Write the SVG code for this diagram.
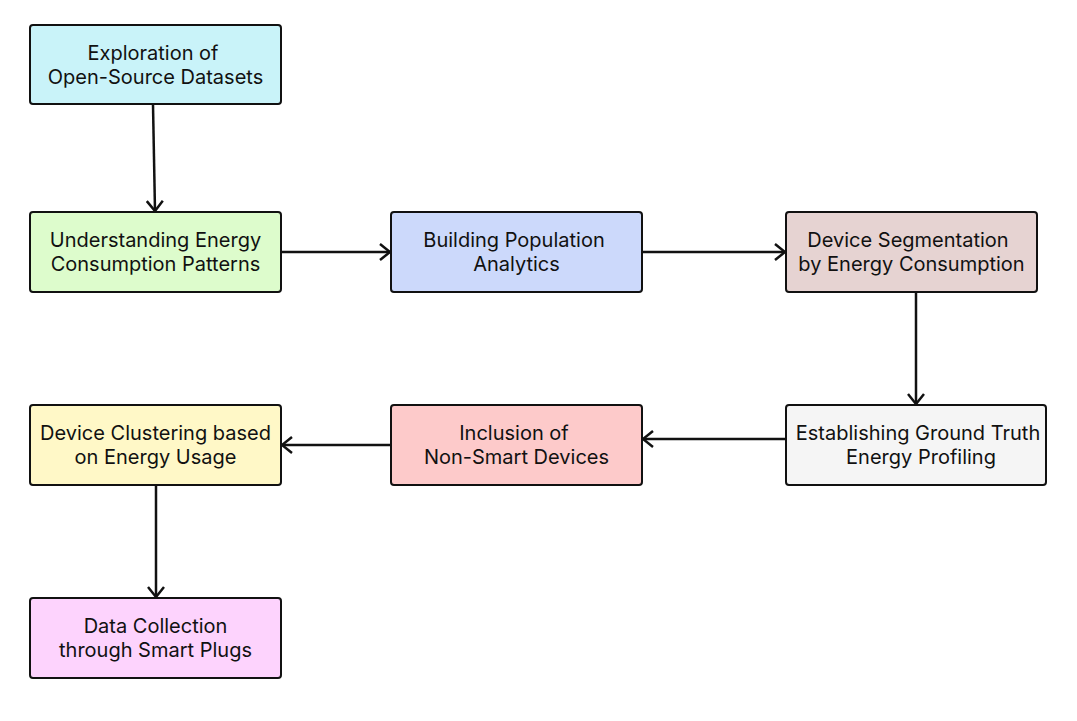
<svg xmlns="http://www.w3.org/2000/svg" width="1077" height="721" viewBox="0 0 1077 721">
<style>
.box{stroke:#111;stroke-width:2;rx:3;ry:3}
.t{font-family:Inter,"Liberation Sans",sans-serif;font-size:20px;fill:#111;text-anchor:middle}
.c{fill:none;stroke:#111;stroke-width:2.5}
</style>
<defs>
<marker id="ah" viewBox="0 0 12 18" refX="11" refY="9" markerWidth="12" markerHeight="18" markerUnits="userSpaceOnUse" orient="auto">
<path d="M1,1 L11,9 L1,17" fill="none" stroke="#111" stroke-width="2.5"/>
</marker>
</defs>
<rect width="1077" height="721" fill="#fff"/>
<g id="connectors">
<path class="c" d="M153,105 L155,211" marker-end="url(#ah)"/>
<path class="c" d="M281,252 L390,252" marker-end="url(#ah)"/>
<path class="c" d="M642,252 L785,252" marker-end="url(#ah)"/>
<path class="c" d="M916,292 L916,404" marker-end="url(#ah)"/>
<path class="c" d="M786,439 L643,439" marker-end="url(#ah)"/>
<path class="c" d="M391,445 L282,445" marker-end="url(#ah)"/>
<path class="c" d="M156,485 L156,597" marker-end="url(#ah)"/>
</g>
<g id="n1"><rect class="box" x="30" y="25" width="251" height="79" fill="#c9f3f9"/><text class="t" x="153" y="60">Exploration of</text><text class="t" x="155.5" y="84">Open-Source Datasets</text></g>
<g id="n2"><rect class="box" x="30" y="212" width="251" height="80" fill="#ddfccc"/><text class="t" x="155.5" y="247">Understanding Energy</text><text class="t" x="155.5" y="271">Consumption Patterns</text></g>
<g id="n3"><rect class="box" x="391" y="212" width="251" height="80" fill="#ccd9fb"/><text class="t" x="514" y="247">Building Population</text><text class="t" x="516.5" y="271">Analytics</text></g>
<g id="n4"><rect class="box" x="786" y="212" width="251" height="80" fill="#e6d3d2"/><text class="t" x="908" y="247">Device Segmentation</text><text class="t" x="911.5" y="271">by Energy Consumption</text></g>
<g id="n5"><rect class="box" x="786" y="405" width="260" height="80" fill="#f5f5f5"/><text class="t" x="918" y="440">Establishing Ground Truth</text><text class="t" x="921" y="464">Energy Profiling</text></g>
<g id="n6"><rect class="box" x="391" y="405" width="251" height="80" fill="#fdcaca"/><text class="t" x="514" y="440">Inclusion of</text><text class="t" x="516.5" y="464">Non-Smart Devices</text></g>
<g id="n7"><rect class="box" x="30" y="405" width="251" height="80" fill="#fff8c7"/><text class="t" x="155.5" y="440">Device Clustering based</text><text class="t" x="155.5" y="464">on Energy Usage</text></g>
<g id="n8"><rect class="box" x="30" y="598" width="251" height="80" fill="#fdd3fd"/><text class="t" x="155.5" y="633">Data Collection</text><text class="t" x="155.5" y="657">through Smart Plugs</text></g>
</svg>
